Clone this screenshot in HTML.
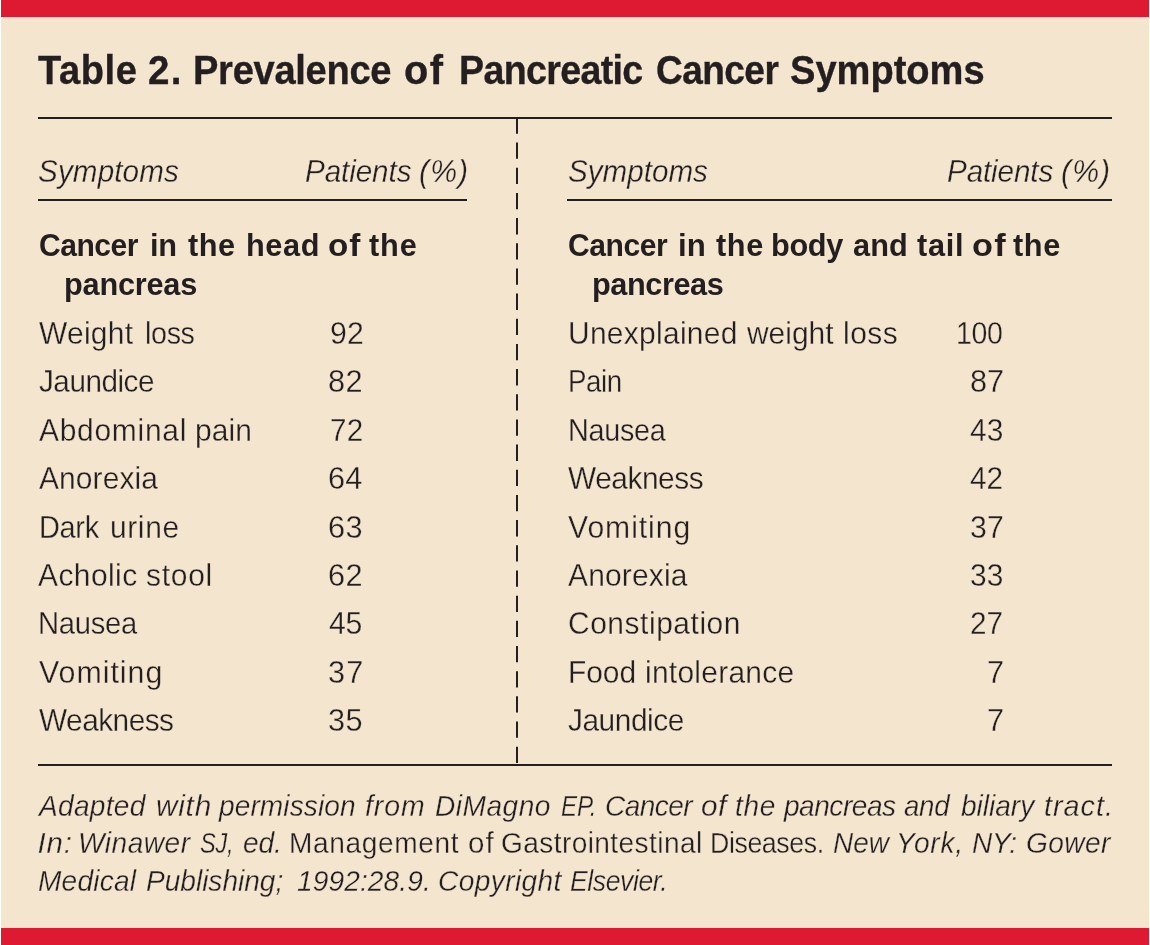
<!DOCTYPE html>
<html lang="en"><head><meta charset="utf-8"><title>Table 2. Prevalence of Pancreatic Cancer Symptoms</title>
<style>
html,body{margin:0;padding:0}
body{width:1150px;height:945px;background:#fff;overflow:hidden;position:relative;font-family:"Liberation Sans",sans-serif;color:#231f20}
.card{position:absolute;left:1px;top:0;width:1148px;height:945px;background:#f4e5cf}
.bar{position:absolute;left:1px;width:1148px;height:17px;background:#de1a32}
.rule{position:absolute;height:2px;background:#231f20}
.txt{position:absolute;left:0;top:0;width:1150px;height:945px;will-change:transform}
.ln{position:absolute;left:0;white-space:nowrap;line-height:44px;height:44px;margin:0;font-weight:normal}
.ln span{position:relative;display:inline-block;transform-origin:0 0}
.title span{transform:scaleX(0.94)}
.hd span{transform:scaleX(0.94)}
.sec span{transform:scaleX(0.99)}
.row span{transform:scaleX(0.95)}
.num span{transform:scaleX(0.975)}
.foot span{transform:scaleX(0.955)}
.title{font-size:40.5px;font-weight:bold;-webkit-text-stroke:0.35px #231f20}
.hd{font-size:31.5px;font-style:italic}
.sec{font-size:31.0px;font-weight:bold}
.row,.num{font-size:31.5px}
.row,.num,.hd,.foot{-webkit-text-stroke:0.3px #f4e5cf}
.foot{font-size:29.4px;font-style:italic}
.r{font-style:normal}
svg{position:absolute;left:0;top:0}
</style></head><body>
<div class="card"></div>
<div class="bar" style="top:0"></div>
<div class="bar" style="top:928px"></div>
<div class="rule" style="left:38px;top:117px;width:1074px"></div>
<div class="rule" style="left:38px;top:199px;width:429px"></div>
<div class="rule" style="left:567px;top:199px;width:545px"></div>
<div class="rule" style="left:38px;top:764px;width:1074px"></div>
<svg width="1150" height="945" viewBox="0 0 1150 945"><line x1="517" y1="117.4" x2="517" y2="765" stroke="#231f20" stroke-width="2" stroke-dasharray="16.3 8.87"/></svg>
<div class="txt">
<h1 class="ln title" style="top:48.0px"><span style="left:38.2px;letter-spacing:0.59px">Table</span> <span style="left:30.9px;letter-spacing:1.40px;transform:scaleX(0.952)">2.</span> <span style="left:28.6px;letter-spacing:-0.30px">Prevalence</span> <span style="left:16.6px;letter-spacing:1.40px;transform:scaleX(0.981)">of</span> <span style="left:19.3px;letter-spacing:-0.70px;transform:scaleX(0.928)">Pancreatic</span> <span style="left:7.3px;letter-spacing:-0.59px;transform:scaleX(0.914)">Cancer</span> <span style="left:-3.4px">Symptoms</span></h1>
<div class="ln hd" style="top:149.0px"><span style="left:38.0px;letter-spacing:0.15px">Symptoms</span></div>
<div class="ln hd" style="top:149.0px"><span style="left:305.0px;letter-spacing:-0.08px">Patients</span> <span style="left:297.5px;letter-spacing:1.09px;transform:scaleX(0.961)">(%)</span></div>
<div class="ln hd" style="top:149.0px"><span style="left:567.8px">Symptoms</span></div>
<div class="ln hd" style="top:149.0px"><span style="left:946.8px;letter-spacing:-0.12px">Patients</span> <span style="left:939.3px;letter-spacing:1.09px;transform:scaleX(0.961)">(%)</span></div>
<div class="ln sec" style="top:224.0px"><span style="left:39.1px;letter-spacing:-0.53px;transform:scaleX(0.970)">Cancer</span> <span style="left:39.0px;letter-spacing:-0.20px">in</span> <span style="left:41.2px;letter-spacing:0.56px">the</span> <span style="left:42.6px;letter-spacing:0.61px">head</span> <span style="left:41.8px;letter-spacing:0.88px;transform:scaleX(1.072)">of</span> <span style="left:43.1px;letter-spacing:0.91px">the</span></div>
<div class="ln sec" style="top:263.0px"><span style="left:63.8px;letter-spacing:-0.22px">pancreas</span></div>
<div class="ln sec" style="top:224.0px"><span style="left:567.9px;letter-spacing:-0.45px;transform:scaleX(0.970)">Cancer</span> <span style="left:566.7px;letter-spacing:0.08px;transform:scaleX(1.006)">in</span> <span style="left:568.2px;letter-spacing:0.61px">the</span> <span style="left:566.9px;letter-spacing:-0.34px">body</span> <span style="left:567.0px;letter-spacing:0.15px">and</span> <span style="left:567.0px;letter-spacing:0.71px">tail</span> <span style="left:565.4px;letter-spacing:1.07px;transform:scaleX(1.106)">of</span> <span style="left:567.2px;letter-spacing:0.61px">the</span></div>
<div class="ln sec" style="top:263.0px"><span style="left:592.4px;letter-spacing:-0.43px">pancreas</span></div>
<div class="ln row" style="top:311.0px"><span style="left:38.6px;letter-spacing:0.29px">Weight</span> <span style="left:36.9px;letter-spacing:-0.36px;transform:scaleX(0.909)">loss</span></div>
<div class="ln num" style="top:311.0px"><span style="left:329.5px;letter-spacing:0.08px;transform:scaleX(0.960)">92</span></div>
<div class="ln row" style="top:359.0px"><span style="left:38.6px;letter-spacing:-0.51px;transform:scaleX(0.942)">Jaundice</span></div>
<div class="ln num" style="top:359.0px"><span style="left:328.4px;letter-spacing:0.31px">82</span></div>
<div class="ln row" style="top:408.0px"><span style="left:38.7px;letter-spacing:0.78px">Abdominal</span> <span style="left:30.6px;letter-spacing:0.14px">pain</span></div>
<div class="ln num" style="top:408.0px"><span style="left:330.0px;letter-spacing:0.41px;transform:scaleX(0.939)">72</span></div>
<div class="ln row" style="top:456.0px"><span style="left:38.7px;letter-spacing:0.11px">Anorexia</span></div>
<div class="ln num" style="top:456.0px"><span style="left:328.0px;letter-spacing:0.10px">64</span></div>
<div class="ln row" style="top:505.0px"><span style="left:38.5px;letter-spacing:-0.36px;transform:scaleX(0.919)">Dark</span> <span style="left:36.5px;letter-spacing:0.66px">urine</span></div>
<div class="ln num" style="top:505.0px"><span style="left:328.4px;letter-spacing:0.31px">63</span></div>
<div class="ln row" style="top:553.0px"><span style="left:38.1px;letter-spacing:0.46px">Acholic</span> <span style="left:32.2px;letter-spacing:0.79px">stool</span></div>
<div class="ln num" style="top:553.0px"><span style="left:328.4px;letter-spacing:0.31px">62</span></div>
<div class="ln row" style="top:601.0px"><span style="left:38.4px;letter-spacing:-0.33px;transform:scaleX(0.927)">Nausea</span></div>
<div class="ln num" style="top:601.0px"><span style="left:329.2px;letter-spacing:-0.44px;transform:scaleX(0.960)">45</span></div>
<div class="ln row" style="top:650.0px"><span style="left:38.6px;letter-spacing:1.03px;transform:scaleX(0.963)">Vomiting</span></div>
<div class="ln num" style="top:650.0px"><span style="left:327.8px;letter-spacing:1.09px">37</span></div>
<div class="ln row" style="top:698.0px"><span style="left:38.6px;letter-spacing:-0.54px;transform:scaleX(0.946)">Weakness</span></div>
<div class="ln num" style="top:698.0px"><span style="left:327.8px;letter-spacing:0.51px">35</span></div>
<div class="ln row" style="top:311.0px"><span style="left:567.8px;letter-spacing:0.32px">Unexplained</span> <span style="left:559.2px">weight</span> <span style="left:555.4px;letter-spacing:0.56px">loss</span></div>
<div class="ln num" style="top:311.0px"><span style="left:956.0px;letter-spacing:-0.43px;transform:scaleX(0.904)">100</span></div>
<div class="ln row" style="top:359.0px"><span style="left:568.3px;letter-spacing:-0.51px;transform:scaleX(0.881)">Pain</span></div>
<div class="ln num" style="top:359.0px"><span style="left:969.8px">87</span></div>
<div class="ln row" style="top:408.0px"><span style="left:567.8px;letter-spacing:-0.32px;transform:scaleX(0.913)">Nausea</span></div>
<div class="ln num" style="top:408.0px"><span style="left:970.0px;letter-spacing:0.09px;transform:scaleX(0.950)">43</span></div>
<div class="ln row" style="top:456.0px"><span style="left:567.8px;letter-spacing:-0.47px;transform:scaleX(0.947)">Weakness</span></div>
<div class="ln num" style="top:456.0px"><span style="left:970.4px;letter-spacing:-0.12px;transform:scaleX(0.944)">42</span></div>
<div class="ln row" style="top:505.0px"><span style="left:567.8px;letter-spacing:1.00px;transform:scaleX(0.956)">Vomiting</span></div>
<div class="ln num" style="top:505.0px"><span style="left:970.0px;letter-spacing:0.08px;transform:scaleX(0.960)">37</span></div>
<div class="ln row" style="top:553.0px"><span style="left:567.8px;letter-spacing:0.21px">Anorexia</span></div>
<div class="ln num" style="top:553.0px"><span style="left:970.0px;letter-spacing:0.09px;transform:scaleX(0.949)">33</span></div>
<div class="ln row" style="top:601.0px"><span style="left:567.7px;letter-spacing:0.58px">Constipation</span></div>
<div class="ln num" style="top:601.0px"><span style="left:970.4px;letter-spacing:-0.12px;transform:scaleX(0.943)">27</span></div>
<div class="ln row" style="top:650.0px"><span style="left:567.8px;letter-spacing:-0.04px">Food</span> <span style="left:564.1px;letter-spacing:0.29px">intolerance</span></div>
<div class="ln num" style="top:650.0px"><span style="left:987.0px">7</span></div>
<div class="ln row" style="top:698.0px"><span style="left:567.8px;letter-spacing:-0.47px;transform:scaleX(0.947)">Jaundice</span></div>
<div class="ln num" style="top:698.0px"><span style="left:987.0px">7</span></div>
<div class="ln foot" style="top:784.0px"><span style="left:39.3px;letter-spacing:0.31px">Adapted</span> <span style="left:35.9px;letter-spacing:0.75px;transform:scaleX(1.012)">with</span> <span style="left:36.0px;letter-spacing:0.10px">permission</span> <span style="left:30.6px;letter-spacing:1.01px;transform:scaleX(0.967)">from</span> <span style="left:29.6px;letter-spacing:0.54px">DiMagno</span> <span style="left:25.5px;letter-spacing:-0.26px;transform:scaleX(0.822)">EP.</span> <span style="left:19.1px;letter-spacing:-0.51px;transform:scaleX(0.951)">Cancer</span> <span style="left:14.8px;letter-spacing:0.52px;transform:scaleX(1.012)">of</span> <span style="left:15.7px;letter-spacing:0.73px">the</span> <span style="left:12.7px;letter-spacing:-0.51px">pancreas</span> <span style="left:8.0px;letter-spacing:-0.29px;transform:scaleX(0.940)">and</span> <span style="left:8.6px;letter-spacing:-0.02px">biliary</span> <span style="left:6.8px;letter-spacing:1.01px;transform:scaleX(0.980)">tract.</span></div>
<div class="ln foot" style="top:821.0px"><span style="left:37.5px;letter-spacing:0.91px;transform:scaleX(1.000)">In:</span> <span style="left:34.0px;letter-spacing:0.54px">Winawer</span> <span style="left:30.8px;letter-spacing:-0.26px;transform:scaleX(0.802)">SJ,</span> <span style="left:23.2px;letter-spacing:-0.05px">ed.</span> <span class="r" style="left:21.0px;letter-spacing:0.67px">Management</span> <span class="r" style="left:13.6px;letter-spacing:1.01px;transform:scaleX(1.005)">of</span> <span class="r" style="left:11.7px;letter-spacing:0.43px">Gastrointestinal</span> <span class="r" style="left:1.5px;letter-spacing:-0.44px;transform:scaleX(0.909)">Diseases.</span> <span style="left:-9.5px;letter-spacing:0.02px;transform:scaleX(0.951)">New</span> <span style="left:-12.6px;letter-spacing:0.81px">York,</span> <span style="left:-16.7px;letter-spacing:-0.37px">NY:</span> <span style="left:-17.6px;letter-spacing:0.47px">Gower</span></div>
<div class="ln foot" style="top:859.0px"><span style="left:37.9px;letter-spacing:0.23px">Medical</span> <span style="left:35.3px;letter-spacing:-0.01px">Publishing;</span> <span style="left:33.7px;letter-spacing:0.12px">1992:28.9.</span> <span style="left:26.9px;letter-spacing:0.42px">Copyright</span> <span style="left:20.8px;letter-spacing:-0.45px;transform:scaleX(0.904)">Elsevier.</span></div>
</div>
</body></html>
